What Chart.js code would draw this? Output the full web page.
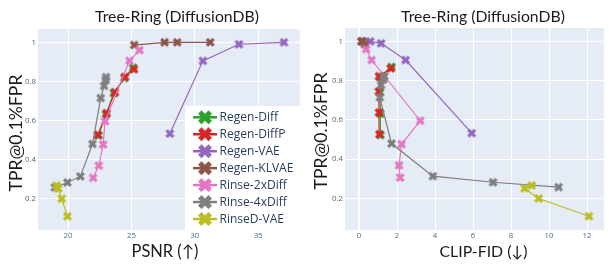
<!DOCTYPE html>
<html><head><meta charset="utf-8">
<script src="https://cdn.jsdelivr.net/npm/chart.js@4/dist/chart.umd.min.js"></script>
<style>
html,body{margin:0;padding:0;background:#fff;}
#wrap{position:relative;width:609px;height:265px;overflow:hidden;background:#fff;}
canvas{position:absolute;top:0;}
</style></head><body>
<div id="wrap">
<canvas id="c1" width="305" height="265" style="left:0;width:305px;height:265px"></canvas>
<canvas id="c2" width="304" height="265" style="left:305px;width:304px;height:265px"></canvas>
</div>
<script>
// ---------- data ----------
const seriesNames = ["Regen-Diff","Regen-DiffP","Regen-VAE","Regen-KLVAE","Rinse-2xDiff","Rinse-4xDiff","RinseD-VAE"];
const seriesColors = ["#2ca02c","#d62728","#9467bd","#8c564b","#e377c2","#7f7f7f","#bcbd22"];

const regenDiffTPR  = [0.524, 0.632, 0.740, 0.818, 0.870];
const regenDiffPSNR = [22.40, 23.00, 23.62, 24.45, 25.15];
const regenDiffCLIP = [1.13, 1.12, 1.10, 1.09, 1.71];

const regenDiffPTPR  = [0.527, 0.638, 0.745, 0.823, 0.862];
const regenDiffPPSNR = [22.35, 23.05, 23.70, 24.50, 25.20];
const regenDiffPCLIP = [1.07, 1.05, 1.04, 1.05, 1.67];

const regenVAETPR  = [1.000, 0.990, 0.905, 0.533];
const regenVAEPSNR = [37.04, 33.49, 30.64, 28.04];
const regenVAECLIP = [0.59, 1.16, 2.45, 5.93];

const regenKLVAETPR  = [1.000, 1.000, 1.000, 0.986];
const regenKLVAEPSNR = [31.22, 28.61, 27.62, 25.22];
const regenKLVAECLIP = [0.12, 0.15, 0.20, 0.30];

const rinse2xTPR  = [0.960, 0.905, 0.596, 0.477, 0.369, 0.307];
const rinse2xPSNR = [25.64, 24.85, 22.92, 22.77, 22.43, 21.98];
const rinse2xCLIP = [0.38, 0.66, 3.22, 2.24, 2.10, 2.16];

const rinse4xTPR  = [0.822, 0.807, 0.777, 0.715, 0.480, 0.314, 0.283, 0.258];
const rinse4xPSNR = [23.00, 22.97, 22.84, 22.58, 21.93, 20.97, 19.95, 18.96];
const rinse4xCLIP = [1.33, 1.28, 1.16, 1.09, 1.71, 3.88, 7.05, 10.50];

const rinseDVAETPR  = [0.267, 0.252, 0.200, 0.110];
const rinseDVAEPSNR = [19.09, 19.22, 19.50, 19.95];
const rinseDVAECLIP = [9.09, 8.71, 9.45, 12.10];

const yTickValues = [0.2, 0.4, 0.6, 0.8, 1];
const yTickLabels = ["0.2", "0.4", "0.6", "0.8", "1"];
const psnrTickValues = [20, 25, 30, 35];
const psnrTickLabels = ["20", "25", "30", "35"];
const clipTickValues = [0, 2, 4, 6, 8, 10, 12];
const clipTickLabels = ["0", "2", "4", "6", "8", "10", "12"];

const chartTitle = "Tree-Ring (DiffusionDB)";
const yAxisTitle = "TPR@0.1%FPR";
const psnrAxisTitle = "PSNR (\u2191)";
const clipAxisTitle = "CLIP-FID (\u2193)";

const tprSeries  = [regenDiffTPR, regenDiffPTPR, regenVAETPR, regenKLVAETPR, rinse2xTPR, rinse4xTPR, rinseDVAETPR];
const psnrSeries = [regenDiffPSNR, regenDiffPPSNR, regenVAEPSNR, regenKLVAEPSNR, rinse2xPSNR, rinse4xPSNR, rinseDVAEPSNR];
const clipSeries = [regenDiffCLIP, regenDiffPCLIP, regenVAECLIP, regenKLVAECLIP, rinse2xCLIP, rinse4xCLIP, rinseDVAECLIP];

// ---------- styling helpers ----------
const TICK_COLOR = "#506784";
const TEXT_COLOR = "#2a3f5f";
const FONT_UI = "'Open Sans', sans-serif";
const FONT_TITLE = "Lato, 'Open Sans', sans-serif";

function xPath(ctx, s) {
  const r = s / 4;
  ctx.beginPath();
  ctx.moveTo(0, r);
  const seq = [[1,1],[1,-1],[-1,-1],[1,-1],[-1,-1],[-1,1],[-1,-1],[-1,1],[1,1],[-1,1],[1,1]];
  let x = 0, y = r;
  for (const [dx, dy] of seq) { x += dx * r; y += dy * r; ctx.lineTo(x, y); }
  ctx.closePath();
}
function makeMarker(color, s) {
  const c = document.createElement("canvas");
  const n = Math.ceil(s) + 2;
  c.width = n; c.height = n;
  const g = c.getContext("2d");
  g.translate(n / 2, n / 2);
  xPath(g, s);
  g.fillStyle = color;
  g.fill();
  return c;
}
const plotMarkers = seriesColors.map(c => makeMarker(c, 9));
const legendMarkers = seriesColors.map(c => makeMarker(c, 14));

function fitFont(ctx, text, family, target) {
  ctx.font = "100px " + family;
  const w = ctx.measureText(text).width;
  return 100 * target / w;
}

const bgPlugin = {
  id: "plotBg",
  beforeDraw(chart) {
    const a = chart.chartArea, ctx = chart.ctx;
    ctx.save();
    ctx.fillStyle = "#ffffff";
    ctx.fillRect(0, 0, chart.width, chart.height);
    ctx.fillStyle = "#E5ECF6";
    ctx.fillRect(a.left, a.top, a.right - a.left, a.bottom - a.top);
    ctx.restore();
  }
};

const textPlugin = {
  id: "texts",
  afterDraw(chart, args, opts) {
    const ctx = chart.ctx;
    ctx.save();
    ctx.fillStyle = "#1a1a1a";
    ctx.textAlign = "center";
    ctx.textBaseline = "middle";
    let sz = fitFont(ctx, opts.title, FONT_TITLE, 164);
    ctx.font = sz + "px " + FONT_TITLE;
    ctx.fillText(opts.title, opts.titleX, opts.titleY);
    sz = fitFont(ctx, opts.xTitle, FONT_TITLE, opts.xTitleW);
    ctx.font = sz + "px " + FONT_TITLE;
    ctx.fillText(opts.xTitle, opts.xTitleX, opts.xTitleY);
    sz = fitFont(ctx, opts.yTitle, FONT_TITLE, 117);
    ctx.font = sz + "px " + FONT_TITLE;
    ctx.translate(opts.yTitleX, opts.yTitleY);
    ctx.rotate(-Math.PI / 2);
    ctx.fillText(opts.yTitle, 0, 0);
    ctx.restore();
  }
};

const legendPlugin = {
  id: "boxLegend",
  afterDraw(chart, args, opts) {
    if (!opts.show) return;
    const ctx = chart.ctx;
    ctx.save();
    ctx.fillStyle = "#ffffff";
    ctx.fillRect(opts.x, opts.y, opts.w, opts.h);
    const fs = fitFont(ctx, "Regen-KLVAE", FONT_UI, 74);
    ctx.font = fs + "px " + FONT_UI;
    ctx.textBaseline = "middle";
    ctx.textAlign = "left";
    seriesNames.forEach((name, i) => {
      const cy = opts.firstY + i * opts.step;
      ctx.strokeStyle = seriesColors[i];
      ctx.lineWidth = 2.5;
      ctx.beginPath();
      ctx.moveTo(opts.x + 8, cy);
      ctx.lineTo(opts.x + 32, cy);
      ctx.stroke();
      const m = legendMarkers[i];
      ctx.drawImage(m, opts.x + 20 - m.width / 2, cy - m.height / 2);
      ctx.fillStyle = TEXT_COLOR;
      ctx.fillText(name, opts.x + 34.5, cy + 0.5);
    });
    ctx.restore();
  }
};

function buildDatasets(xSeries) {
  return seriesNames.map((name, i) => ({
    label: name,
    data: tprSeries[i].map((t, k) => ({ x: xSeries[i][k], y: t })),
    showLine: true,
    borderColor: seriesColors[i],
    backgroundColor: seriesColors[i],
    borderWidth: 1.2,
    pointStyle: plotMarkers[i],
    pointRadius: 4,
    order: seriesNames.length - i
  }));
}

function makeChart(id, xSeries, xMin, xMax, xTicks, xLabels, yWidth, rightPad, topPad, txt, legendOpts) {
  return new Chart(document.getElementById(id), {
    type: "scatter",
    data: { datasets: buildDatasets(xSeries) },
    options: {
      responsive: false,
      animation: false,
      events: [],
      layout: { padding: { left: 0, right: rightPad, top: topPad, bottom: 0 } },
      scales: {
        x: {
          type: "linear", min: xMin, max: xMax,
          afterBuildTicks: s => { s.ticks = xTicks.map(v => ({ value: v })); },
          afterFit: s => { s.height = 35; },
          grid: { color: "#ffffff", lineWidth: c => (c.tick && c.tick.value === 0 ? 2 : 1), drawTicks: false },
          border: { display: false },
          ticks: { color: TICK_COLOR, font: { family: FONT_UI, size: 7.8 }, padding: 1,
                   maxRotation: 0, autoSkip: false,
                   callback: (v) => { const k = xTicks.indexOf(v); return k >= 0 ? xLabels[k] : ""; } }
        },
        y: {
          type: "linear", min: 0.04, max: 1.068,
          afterBuildTicks: s => { s.ticks = yTickValues.map(v => ({ value: v })); },
          afterFit: s => { s.width = yWidth; },
          grid: { color: "#ffffff", lineWidth: 1, drawTicks: false },
          border: { display: false },
          ticks: { color: TICK_COLOR, font: { family: FONT_UI, size: 7.8 }, padding: 2,
                   autoSkip: false,
                   callback: (v) => { const k = yTickValues.indexOf(v); return k >= 0 ? yTickLabels[k] : ""; } }
        }
      },
      plugins: {
        legend: { display: false },
        tooltip: { enabled: false },
        title: { display: false },
        texts: txt,
        boxLegend: legendOpts
      }
    },
    plugins: [bgPlugin, textPlugin, legendPlugin]
  });
}

makeChart("c1", psnrSeries, 17.63, 38.29, psnrTickValues, psnrTickLabels, 38, 1, 29,
  { title: chartTitle, titleX: 177, titleY: 16.5, xTitle: psnrAxisTitle, xTitleX: 165, xTitleY: 252, xTitleW: 67,
    yTitle: yAxisTitle, yTitleX: 16, yTitleY: 133 },
  { show: true, x: 185, y: 106, w: 117, h: 124, firstY: 117.3, step: 16.95 });

makeChart("c2", clipSeries, -0.74, 12.88, clipTickValues, clipTickLabels, 40, -1, 28,
  { title: chartTitle, titleX: 178, titleY: 16.5, xTitle: clipAxisTitle, xTitleX: 178.5, xTitleY: 252, xTitleW: 88,
    yTitle: yAxisTitle, yTitleX: 16, yTitleY: 131 },
  { show: false });
</script>
</body></html>
